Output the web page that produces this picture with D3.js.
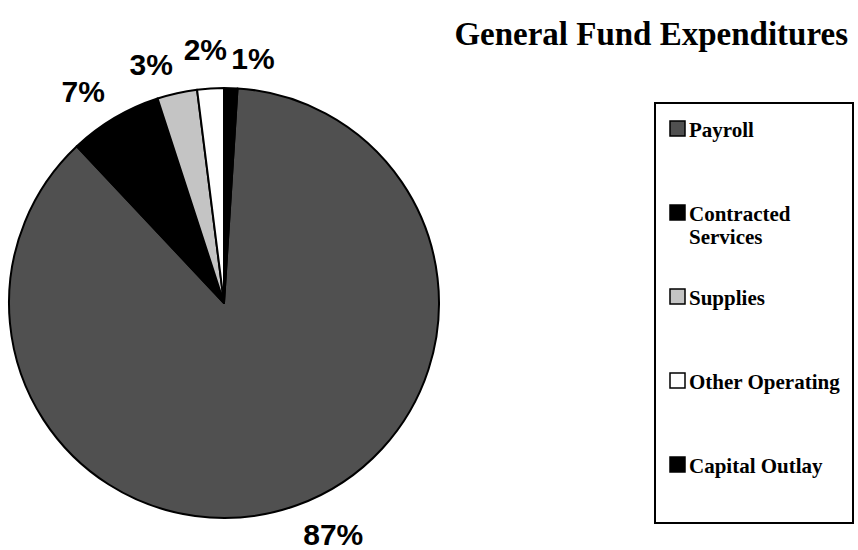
<!DOCTYPE html>
<html>
<head>
<meta charset="utf-8">
<script src="https://cdn.jsdelivr.net/npm/d3@7"></script>
<style>
  body { margin: 0; background: #fff; }
  .pct { font-family: "Liberation Sans", Arial, sans-serif; font-weight: bold; font-size: 30px; }
  .legend text { font-family: "Liberation Serif", "Times New Roman", serif; font-weight: bold; font-size: 21px; }
  .title { font-family: "Liberation Serif", "Times New Roman", serif; font-weight: bold; font-size: 33px; }
</style>
</head>
<body>
<svg width="858" height="550"></svg>
<script>
var categories = ["Payroll", "Contracted Services", "Supplies", "Other Operating", "Capital Outlay"],
    shares = [87, 7, 3, 2, 1],
    fills = ["#505050", "#000000", "#c4c4c4", "#ffffff", "#000000"];

var svg = d3.select("svg"),
    cx = 224, cy = 303, r = 215;

var color = d3.scaleOrdinal().domain(categories).range(fills);

// pie starts a little past 12 o'clock so the last slice sits just right of top
var a0 = Math.PI / 50;
var pie = d3.pie().sort(null).value(function(d) { return d.v; })
    .startAngle(a0).endAngle(a0 + 2 * Math.PI);

var data = categories.map(function(c, i) { return {name: c, v: shares[i]}; });
var arcs = pie(data);

var arc = d3.arc().innerRadius(0).outerRadius(r);

var g = svg.append("g").attr("transform", "translate(" + cx + "," + cy + ")");

g.selectAll("path")
    .data(arcs)
  .enter().append("path")
    .attr("d", arc)
    .attr("fill", function(d) { return color(d.data.name); })
    .attr("stroke", "#000")
    .attr("stroke-width", 2)
    .attr("stroke-linejoin", "round");

// percentage labels outside the pie, corner nearest to the slice
var lr = r + 19;
g.selectAll("text.pct")
    .data(arcs)
  .enter().append("text")
    .attr("class", "pct")
    .each(function(d) {
      var m = (d.startAngle + d.endAngle) / 2,
          s = Math.sin(m), c = Math.cos(m),
          x = lr * s, y = -lr * c;
      var anchor = s < -0.1 ? "end" : (s > 0.02 ? "start" : "middle");
      d3.select(this)
        .attr("x", anchor === "middle" ? x - 4 : x)
        .attr("y", anchor === "middle" ? y - 9 : y)
        .attr("text-anchor", anchor)
        .attr("dy", c < 0 ? "0.72em" : 0)
        .text(d.data.v + "%");
    });

// title
svg.append("text")
    .attr("class", "title")
    .attr("x", 848)
    .attr("y", 45)
    .attr("text-anchor", "end")
    .text("General Fund Expenditures");

// legend
var legend = svg.append("g").attr("class", "legend");

legend.append("rect")
    .attr("x", 655).attr("y", 103)
    .attr("width", 198).attr("height", 420)
    .attr("fill", "none")
    .attr("stroke", "#000")
    .attr("stroke-width", 2);

var ly = d3.scalePoint().domain(categories).range([131, 467]);

var item = legend.selectAll("g.item")
    .data(categories)
  .enter().append("g")
    .attr("class", "item")
    .attr("transform", function(d) { return "translate(0," + ly(d) + ")"; });

item.append("rect")
    .attr("x", 670).attr("y", -10)
    .attr("width", 15).attr("height", 15)
    .attr("fill", function(d) { return color(d); })
    .attr("stroke", "#000")
    .attr("stroke-width", 1.5);

item.append("text")
    .attr("x", 689)
    .attr("y", 6)
    .each(function(d) {
      var words = d === "Contracted Services" ? ["Contracted", "Services"] : [d];
      var t = d3.select(this);
      words.forEach(function(w, i) {
        t.append("tspan")
          .attr("x", 689)
          .attr("dy", i === 0 ? 0 : 23)
          .text(w);
      });
    });
</script>
</body>
</html>
